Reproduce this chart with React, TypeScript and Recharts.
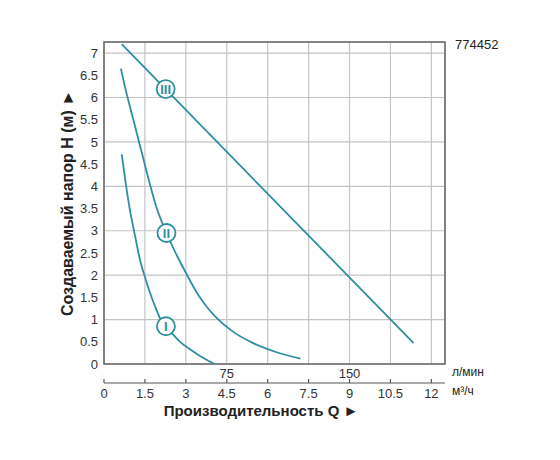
import React from 'react';
import {
  ComposedChart,
  Line,
  XAxis,
  YAxis,
  CartesianGrid,
  ReferenceArea,
  ReferenceDot,
} from 'recharts';

// Производительность Q (м³/ч) и напор H (м) для трёх скоростей
const curve1Q = [0.65, 0.8, 0.95, 1.15, 1.32, 1.5, 1.69, 1.87, 2.05, 2.27, 2.55, 2.79, 3.15, 3.52, 4.05];
const curve1H = [4.72, 4.05, 3.47, 2.85, 2.34, 1.96, 1.6, 1.3, 1.04, 0.85, 0.65, 0.5, 0.33, 0.18, 0];

const curve2Q = [0.62, 0.8, 1.0, 1.2, 1.41, 1.66, 1.91, 2.29, 2.69, 3.03, 3.41, 3.75, 4.09, 4.7, 5.43, 6.3, 7.2];
const curve2H = [6.65, 6.16, 5.68, 5.2, 4.7, 4.1, 3.55, 2.95, 2.42, 2.02, 1.6, 1.3, 1.06, 0.74, 0.48, 0.27, 0.12];

const curve3Q = [0.65, 11.35];
const curve3H = [7.2, 0.47];

const markerQ = [2.27, 2.29, 2.26];
const markerH = [0.85, 2.95, 6.19];
const markerLabels = ['I', 'II', 'III'];

const yTicks = [0, 0.5, 1, 1.5, 2, 2.5, 3, 3.5, 4, 4.5, 5, 5.5, 6, 6.5, 7];
const m3Ticks = [0, 1.5, 3, 4.5, 6, 7.5, 9, 10.5, 12];
// л/мин и где они стоят на шкале м³/ч
const lminTicks = [75, 150];
const lminAtM3 = [4.5, 9];

const TEAL = '#2f8ea2';
const FONT = '"Liberation Sans", Arial, sans-serif';

const toPoints = (qs: number[], hs: number[]) => qs.map((q, i) => ({ q, h: hs[i] }));

const curve1 = toPoints(curve1Q, curve1H);
const curve2 = toPoints(curve2Q, curve2H);
const curve3 = toPoints(curve3Q, curve3H);

const M3Tick = (props: any) => {
  const { x, y, payload } = props;
  return (
    <g>
      <line x1={x} y1={y} x2={x} y2={y - 4} stroke="#555" strokeWidth={1.2} />
      <text x={x} y={y + 15} textAnchor="middle" fontSize={13} fill="#333" fontFamily={FONT}>
        {payload.value}
      </text>
    </g>
  );
};

const LminTick = (props: any) => {
  const { x, y, index } = props;
  return (
    <text x={x} y={y + 14} textAnchor="middle" fontSize={13} fill="#333" fontFamily={FONT}>
      {lminTicks[index]}
    </text>
  );
};

const App: React.FC = () => {
  return (
    <div style={{ position: 'absolute', left: 0, top: 0, width: 560, height: 460, background: '#fff', fontFamily: FONT }}>
      <ComposedChart width={560} height={460} margin={{ top: 42, right: 115, bottom: 0, left: 0 }}>
        <CartesianGrid xAxisId="m3b" stroke="#c4c4c4" strokeWidth={1.2} />
        <XAxis
          xAxisId="m3"
          dataKey="q"
          type="number"
          domain={[0, 12.5]}
          ticks={lminAtM3}
          allowDataOverflow
          height={19}
          axisLine={false}
          tickLine={false}
          tickSize={0}
          tickMargin={0}
          tick={<LminTick />}
        />
        <XAxis
          xAxisId="m3b"
          dataKey="q"
          type="number"
          domain={[0, 12.5]}
          ticks={m3Ticks}
          allowDataOverflow
          height={77}
          axisLine={{ stroke: '#555', strokeWidth: 1.2 }}
          tickLine={false}
          tickSize={0}
          tickMargin={0}
          tick={<M3Tick />}
        />
        <YAxis
          type="number"
          domain={[0, 7.25]}
          ticks={yTicks}
          allowDataOverflow
          width={104}
          axisLine={false}
          tickLine={false}
          tickSize={0}
          tickMargin={6}
          tick={{ fontSize: 13, fill: '#333', fontFamily: FONT }}
        />
        <ReferenceArea xAxisId="m3b" x1={0} x2={12.5} y1={0} y2={7.25} fill="none" stroke="#666" strokeWidth={1.5} />
        <Line xAxisId="m3" data={curve1} dataKey="h" type="monotone" stroke={TEAL} strokeWidth={1.8} dot={false} isAnimationActive={false} />
        <Line xAxisId="m3" data={curve2} dataKey="h" type="monotone" stroke={TEAL} strokeWidth={1.8} dot={false} isAnimationActive={false} />
        <Line xAxisId="m3b" data={curve3} dataKey="h" type="linear" stroke={TEAL} strokeWidth={1.8} dot={false} isAnimationActive={false} />
        {markerLabels.map((label, i) => (
          <ReferenceDot
            key={label}
            xAxisId="m3"
            x={markerQ[i]}
            y={markerH[i]}
            r={9}
            fill="#fff"
            stroke={TEAL}
            strokeWidth={1.8}
            label={{ value: label, position: 'center', fill: TEAL, fontSize: 13, fontWeight: 'bold', fontFamily: FONT }}
          />
        ))}
      </ComposedChart>
      <div style={{ position: 'absolute', left: 455, top: 37, fontSize: 13, color: '#222' }}>774452</div>
      <div style={{ position: 'absolute', left: 452, top: 365, fontSize: 12, color: '#222' }}>л/мин</div>
      <div style={{ position: 'absolute', left: 452, top: 384, fontSize: 12, color: '#222' }}>м³/ч</div>
      <div
        style={{
          position: 'absolute',
          left: 261,
          top: 410,
          transform: 'translate(-50%, -50%)',
          whiteSpace: 'nowrap',
          fontSize: 15,
          fontWeight: 'bold',
          color: '#222',
        }}
      >
        Производительность Q ►
      </div>
      <div
        style={{
          position: 'absolute',
          left: 68,
          top: 203,
          transform: 'translate(-50%, -50%) rotate(-90deg)',
          whiteSpace: 'nowrap',
          fontSize: 16,
          fontWeight: 'bold',
          color: '#222',
        }}
      >
        Создаваемый напор H (м) ►
      </div>
    </div>
  );
};

export default App;
